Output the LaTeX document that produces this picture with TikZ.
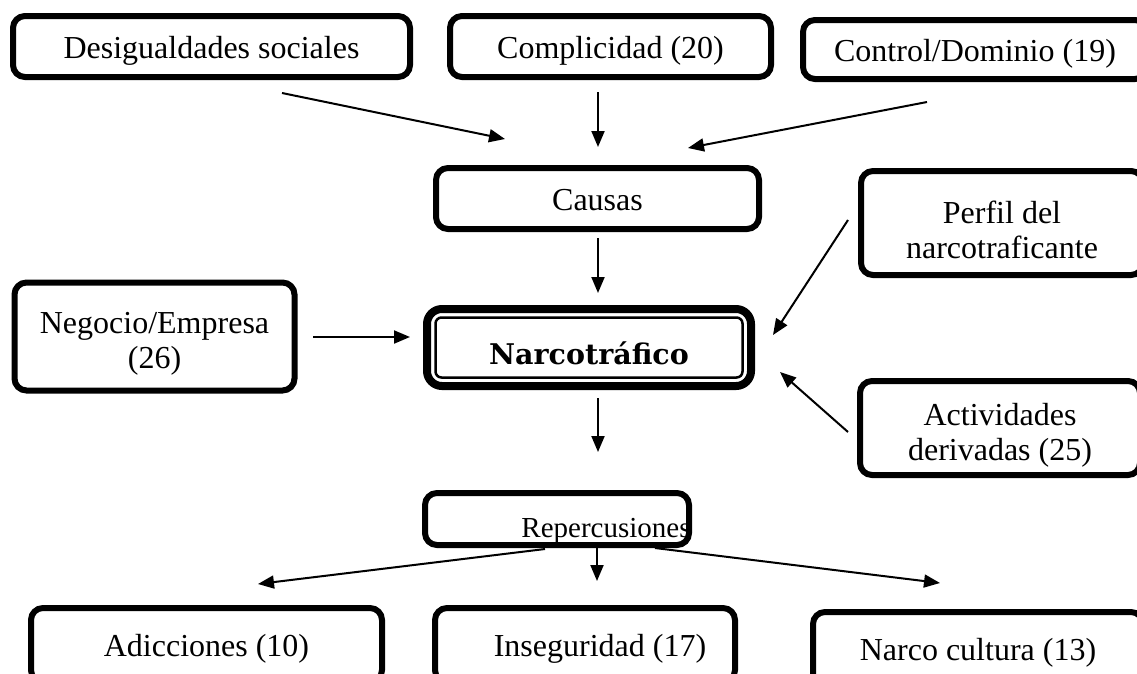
\documentclass[tikz,border=0pt]{standalone}
\usepackage{fontspec}
\setmainfont{Liberation Serif}
\newfontfamily\narcofont{DejaVu Serif}
\usetikzlibrary{arrows.meta}
\newcommand{\mystrut}{\rule[-7pt]{0pt}{37pt}}
\newcommand{\mytallstrut}{\rule{0pt}{36pt}}
\begin{document}
\begin{tikzpicture}[x=1pt,y=-1pt,
  box/.style={draw, line width=6pt, rounded corners=12pt, align=center, inner sep=0pt,
    font=\fontsize{32}{35}\selectfont},
  arr/.style={line width=2pt, -{Triangle[length=16pt,width=13pt]}}]
\useasboundingbox (0,0) rectangle (1137,673);
\clip (0,0) rectangle (1137,673);
% top row
\node[box, minimum width=397pt, minimum height=61pt] (desig) at (211.5,46.5) {\mystrut Desigualdades sociales};
\node[box, minimum width=321pt, minimum height=61pt] (compl) at (610.5,46.5) {\mystrut Complicidad (20)};
\node[box, minimum width=344pt, minimum height=59pt] (control) at (975,49.5) {\mystrut Control/Dominio (19)};
% causas
\node[box, minimum width=323pt, minimum height=61pt] (causas) at (597.5,198.5) {\mystrut Causas};
% side boxes
\node[box, minimum width=280pt, minimum height=108pt] (negocio) at (154.5,336.5) {\mytallstrut Negocio/Empresa\\(26)};
\node[box, minimum width=282pt, minimum height=104pt] (perfil) at (1002,223) {\mytallstrut Perfil del\\narcotraficante};
\node[box, minimum width=280pt, minimum height=94pt] (activ) at (1000,428) {\mytallstrut Actividades\\derivadas (25)};
% central
\node[draw, line width=8pt, rounded corners=15pt, inner sep=0pt, minimum width=324pt, minimum height=77pt,
  font=\narcofont\bfseries\fontsize{28.5}{32}\selectfont] (narco) at (589,347.5) {\rule[-2pt]{0pt}{37pt}Narcotráfico};
\draw[line width=2.5pt, rounded corners=6pt] ([shift={(12.5,12.5)}]narco.north west) rectangle ([shift={(-12.5,-12.5)}]narco.south east);
% repercusiones
\node[box, minimum width=264pt, minimum height=52pt] (reper) at (557,519) {};
\node[font=\fontsize{29}{34}\selectfont, inner sep=0pt, anchor=base] (repertext) at (606,537) {Repercusiones};
% bottom row
\node[box, minimum width=351pt, minimum height=74pt] (adic) at (206.5,645) {\mystrut Adicciones (10)};
\node[box, minimum width=300pt, minimum height=74pt] (inseg) at (585,645) {\hspace*{30pt}\mystrut Inseguridad (17)};
\node[box, minimum width=330pt, minimum height=74pt] (narcocult) at (978,649) {\mystrut Narco cultura (13)};
% arrow end points
\coordinate (a1s) at (282,93);  \coordinate (a1e) at (505,139);
\coordinate (a2s) at (598,92);  \coordinate (a2e) at (598,147);
\coordinate (a3s) at (927,102); \coordinate (a3e) at (688,148);
\coordinate (a4s) at (598,238); \coordinate (a4e) at (598,293);
\coordinate (a5s) at (313,337); \coordinate (a5e) at (410,337);
\coordinate (a6s) at (848,220); \coordinate (a6e) at (773,335);
\coordinate (a7s) at (848,432); \coordinate (a7e) at (780,372);
\coordinate (a8s) at (598,398); \coordinate (a8e) at (598,452);
\coordinate (a9s) at (545,549); \coordinate (a9e) at (258,584);
\coordinate (a10s) at (597,548); \coordinate (a10e) at (597,581);
\coordinate (a11s) at (655,548); \coordinate (a11e) at (940,583);
\foreach \i in {1,...,11} {\draw[arr] (a\i s) -- (a\i e);}
\end{tikzpicture}
\end{document}
